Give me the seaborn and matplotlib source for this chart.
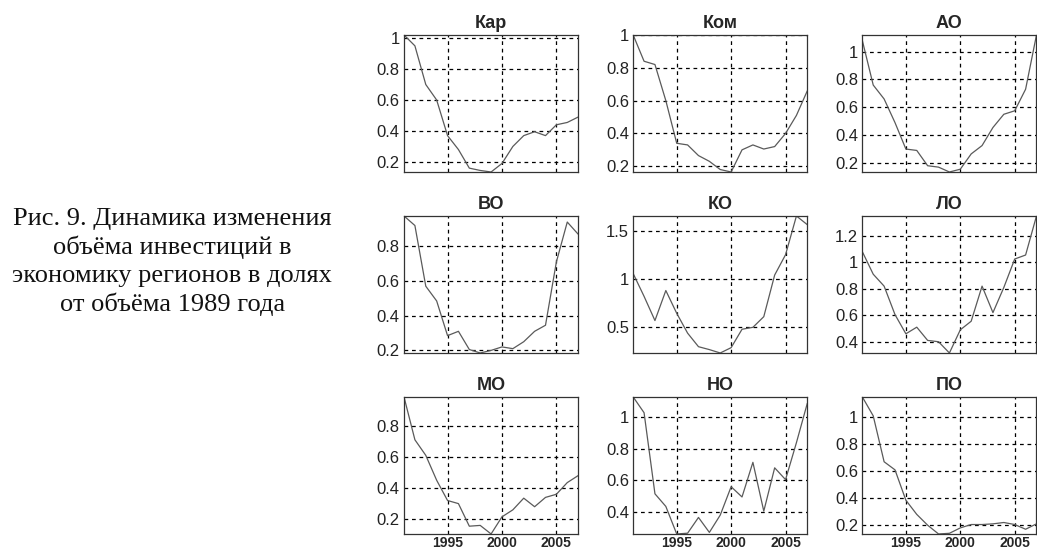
import numpy as np
import pandas as pd
import matplotlib
matplotlib.use("Agg")
import matplotlib.pyplot as plt
import seaborn as sns
from matplotlib.ticker import MultipleLocator, FormatStrFormatter

# Years on the x axis (1991..2007)
years = [1991, 1992, 1993, 1994, 1995, 1996, 1997, 1998, 1999,
         2000, 2001, 2002, 2003, 2004, 2005, 2006, 2007]

# Investment volume as a share of 1989
kar = [1.02, 0.95, 0.70, 0.60, 0.37, 0.28, 0.16, 0.145, 0.135,
       0.19, 0.30, 0.37, 0.395, 0.37, 0.44, 0.455, 0.49]
kom = [1.00, 0.84, 0.82, 0.60, 0.34, 0.33, 0.265, 0.23, 0.18,
       0.165, 0.30, 0.33, 0.305, 0.32, 0.40, 0.51, 0.66]
ao = [1.08, 0.76, 0.66, 0.49, 0.30, 0.29, 0.18, 0.17, 0.135,
      0.155, 0.265, 0.325, 0.455, 0.55, 0.575, 0.73, 1.12]
vo = [0.975, 0.92, 0.57, 0.485, 0.285, 0.31, 0.205, 0.185, 0.20,
      0.22, 0.21, 0.25, 0.31, 0.345, 0.71, 0.94, 0.87]
ko = [1.055, 0.82, 0.57, 0.88, 0.645, 0.44, 0.30, 0.27, 0.235,
      0.29, 0.48, 0.50, 0.61, 1.04, 1.25, 1.65, 1.56]
lo = [1.08, 0.91, 0.82, 0.605, 0.46, 0.51, 0.41, 0.40, 0.315,
      0.49, 0.555, 0.82, 0.62, 0.81, 1.025, 1.055, 1.35]
mo = [0.985, 0.71, 0.61, 0.45, 0.32, 0.30, 0.155, 0.16, 0.105,
      0.215, 0.26, 0.335, 0.28, 0.34, 0.36, 0.435, 0.48]
no = [1.13, 1.03, 0.515, 0.435, 0.26, 0.265, 0.365, 0.27, 0.38,
      0.56, 0.495, 0.715, 0.405, 0.68, 0.605, 0.84, 1.09]
po = [1.15, 1.01, 0.67, 0.61, 0.385, 0.28, 0.20, 0.135, 0.14,
      0.18, 0.205, 0.205, 0.21, 0.22, 0.205, 0.17, 0.21]

regions = ["Кар", "Ком", "АО", "ВО", "КО", "ЛО", "МО", "НО", "ПО"]
series = [kar, kom, ao, vo, ko, lo, mo, no, po]
y_steps = [0.2, 0.2, 0.2, 0.2, 0.5, 0.2, 0.2, 0.2, 0.2]
year_ticks = [1995, 2000, 2005]

caption = ("Рис. 9. Динамика изменения\nобъёма инвестиций в\n"
           "экономику регионов в долях\nот объёма 1989 года")

# long-format table for seaborn
df = pd.DataFrame({
    "region": np.repeat(regions, len(years)),
    "year": years * len(regions),
    "value": np.concatenate(series),
})

sns.set_theme(style="white")
plt.rcParams["font.family"] = ["Liberation Sans", "DejaVu Sans"]

fig, axes = plt.subplots(3, 3, figsize=(10.37, 5.51), dpi=100)
fig.subplots_adjust(left=0.3896, right=0.9995, top=0.9365, bottom=0.0309,
                    wspace=0.316, hspace=0.321)

for i, (ax, reg) in enumerate(zip(axes.flat, regions)):
    d = df[df["region"] == reg]
    sns.lineplot(data=d, x="year", y="value", ax=ax, color="#5a5a5a",
                 lw=0.9, estimator=None)
    ax.set_xlim(years[0], years[-1])
    ax.set_ylim(d["value"].min(), d["value"].max())
    ax.yaxis.set_major_locator(MultipleLocator(y_steps[i]))
    ax.yaxis.set_major_formatter(FormatStrFormatter("%g"))
    ax.set_xticks(year_ticks)
    ax.grid(True, color="black", linestyle=(0, (3, 3)), lw=0.9)
    ax.set_xlabel("")
    ax.set_ylabel("")
    ax.set_title(reg, fontsize=13, fontweight="bold", pad=5)
    ax.tick_params(axis="both", direction="in", length=3, color="#333333")
    ax.tick_params(axis="y", labelsize=12, labelcolor="#222222", pad=3)
    for sp in ax.spines.values():
        sp.set_color("#333333")
        sp.set_linewidth(0.9)
    if i < 6:
        ax.set_xticklabels([])
    else:
        ax.set_xticklabels([str(y) for y in year_ticks], fontweight="bold",
                           fontsize=10,
                           family=["Liberation Sans Narrow", "Liberation Sans"])
        ax.tick_params(axis="x", pad=1.5)

fig.text(0.166, 0.5245, caption, ha="center", va="center",
         family=["Liberation Serif", "DejaVu Serif"], fontsize=19,
         linespacing=1.3, color="#111111")

plt.savefig("out.png", dpi=100)
